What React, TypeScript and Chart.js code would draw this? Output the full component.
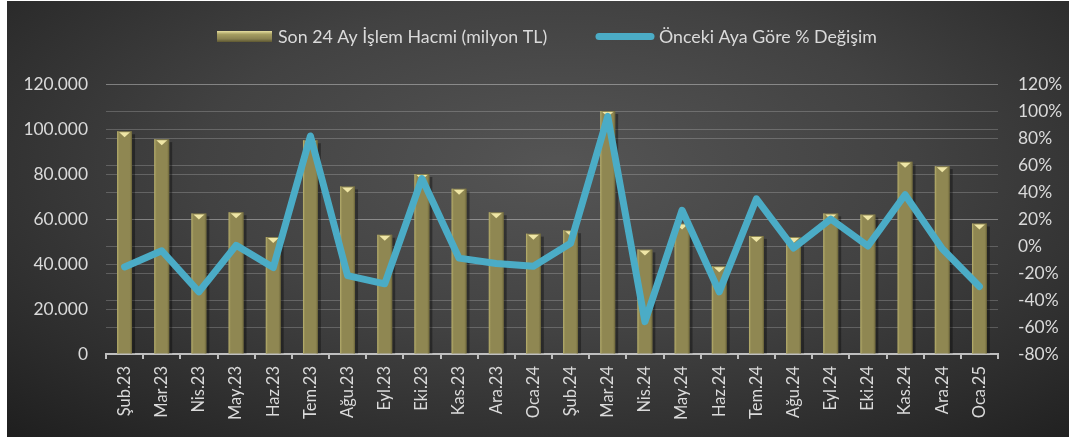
import React, { useEffect, useRef } from "react";
import { Chart, registerables } from "chart.js";

Chart.register(...registerables);

const categories = ["Şub.23","Mar.23","Nis.23","May.23","Haz.23","Tem.23","Ağu.23","Eyl.23","Eki.23","Kas.23","Ara.23","Oca.24","Şub.24","Mar.24","Nis.24","May.24","Haz.24","Tem.24","Ağu.24","Eyl.24","Eki.24","Kas.24","Ara.24","Oca.25"];
const volumes = [99000, 95500, 62500, 63000, 52000, 95000, 74500, 53000, 80000, 73500, 63000, 53500, 55000, 108000, 46500, 58000, 39000, 52500, 52000, 62500, 62000, 85500, 83500, 58000];
const changes = [-15.5, -3.5, -34, 0.5, -16, 81.5, -22, -28, 50, -9, -13, -15, 2, 96, -56, 26.5, -34, 35, -1.5, 20, 0, 38, -2, -30];
const barLabel = "Son 24 Ay İşlem Hacmi (milyon TL)";
const lineLabel = "Önceki Aya Göre % Değişim";

const FONT = "Lato, 'Open Sans', sans-serif";
const TEXT = "#dadada";
const LINE = "#4bacc6";

const fmtThousands = (v: number) => {
  if (v === 0) return "0";
  const s = Math.round(v).toString();
  return s.replace(/\B(?=(\d{3})+(?!\d))/g, ".");
};

const barDeco = {
  id: "barDeco",
  beforeDatasetDraw(chart: any, args: any) {
    if (args.index !== 0) return;
    const ctx = chart.ctx;
    const meta = chart.getDatasetMeta(0);
    ctx.save();
    meta.data.forEach((bar: any) => {
      const w = bar.width;
      ctx.fillStyle = "rgba(0,0,0,0.35)";
      ctx.fillRect(bar.x + w / 2, bar.y + 3, 3, bar.base - bar.y - 3);
    });
    ctx.restore();
  },
  afterDatasetDraw(chart: any, args: any) {
    if (args.index !== 0) return;
    const ctx = chart.ctx;
    const meta = chart.getDatasetMeta(0);
    ctx.save();
    meta.data.forEach((bar: any) => {
      const w = bar.width;
      const l = bar.x - w / 2;
      const g = ctx.createLinearGradient(l, 0, l + w, 0);
      g.addColorStop(0, "rgba(200,192,120,0.9)");
      g.addColorStop(0.18, "rgba(140,132,80,0)");
      g.addColorStop(0.82, "rgba(140,132,80,0)");
      g.addColorStop(1, "rgba(90,84,45,0.8)");
      ctx.fillStyle = g;
      ctx.fillRect(l, bar.y, w, bar.base - bar.y);
      ctx.beginPath();
      ctx.moveTo(l + 2, bar.y + 1);
      ctx.lineTo(l + w - 2, bar.y + 1);
      ctx.lineTo(bar.x, bar.y + 6);
      ctx.closePath();
      ctx.fillStyle = "#efe6a6";
      ctx.fill();
    });
    ctx.restore();
  },
};

const legendPlugin = {
  id: "customLegend",
  afterDraw(chart: any) {
    const ctx = chart.ctx;
    ctx.save();
    const g = ctx.createLinearGradient(0, 30, 0, 41);
    g.addColorStop(0, "#e8e0a0");
    g.addColorStop(0.3, "#a69e62");
    g.addColorStop(0.7, "#8c8452");
    g.addColorStop(1, "#5e5832");
    ctx.fillStyle = g;
    ctx.fillRect(210, 30, 55, 11);
    ctx.font = `17.8px ${FONT}`;
    ctx.fillStyle = TEXT;
    ctx.textBaseline = "middle";
    ctx.textAlign = "left";
    ctx.fillText(barLabel, 271, 36);
    ctx.strokeStyle = LINE;
    ctx.lineWidth = 7;
    ctx.lineCap = "round";
    ctx.beginPath();
    ctx.moveTo(592, 35.5);
    ctx.lineTo(644, 35.5);
    ctx.stroke();
    ctx.fillText(lineLabel, 652, 36);
    ctx.restore();
  },
};

export default function App() {
  const ref = useRef<HTMLCanvasElement | null>(null);
  useEffect(() => {
    document.body.style.margin = "0";
    document.body.style.background = "#ffffff";
    const canvas = ref.current;
    if (!canvas) return;
    const chart = new Chart(canvas, {
      type: "bar",
      data: {
        labels: categories,
        datasets: [
          {
            type: "bar",
            label: barLabel,
            data: volumes,
            yAxisID: "y",
            backgroundColor: "#8f8752",
            borderWidth: 0,
            barPercentage: 0.4,
            categoryPercentage: 1,
            order: 2,
          },
          {
            type: "line",
            label: lineLabel,
            data: changes,
            yAxisID: "y1",
            borderColor: LINE,
            backgroundColor: LINE,
            borderWidth: 7,
            borderJoinStyle: "round",
            borderCapStyle: "round",
            pointRadius: 0,
            tension: 0,
            order: 1,
          },
        ],
      } as any,
      options: {
        animation: false,
        responsive: false,
        maintainAspectRatio: false,
        layout: { padding: { top: 83, left: 0, right: 0, bottom: 0 } },
        plugins: { legend: { display: false }, tooltip: { enabled: false } },
        scales: {
          x: {
            offset: true,
            grid: {
              display: true,
              drawOnChartArea: false,
              drawTicks: true,
              tickLength: 5,
              color: "#bfbfbf",
              lineWidth: 2,
              offset: true,
            },
            border: { display: true, color: "#bfbfbf", width: 2 },
            ticks: {
              color: TEXT,
              font: { family: FONT, size: 16.5 },
              minRotation: 90,
              maxRotation: 90,
              padding: 7,
              autoSkip: false,
            },
            afterFit: (s: any) => {
              s.height = 83;
            },
          },
          y: {
            position: "left",
            min: 0,
            max: 120000,
            grid: { color: "rgba(255,255,255,0.2)", lineWidth: 1, drawTicks: false },
            border: { display: false },
            ticks: {
              stepSize: 20000,
              color: TEXT,
              font: { family: FONT, size: 17.4 },
              padding: 18,
              callback: (v: any) => fmtThousands(Number(v)),
            },
            afterFit: (s: any) => {
              s.width = 99;
            },
          },
          y1: {
            position: "right",
            min: -80,
            max: 120,
            grid: { color: "rgba(255,255,255,0.2)", lineWidth: 1, drawTicks: false },
            border: { display: false },
            ticks: {
              stepSize: 20,
              color: TEXT,
              font: { family: FONT, size: 17.4 },
              padding: 20,
              callback: (v: any) => `${v}%`,
            },
            afterFit: (s: any) => {
              s.width = 71;
            },
          },
        },
      } as any,
      plugins: [barDeco, legendPlugin],
    });
    return () => chart.destroy();
  }, []);

  return (
    <div
      style={{
        position: "absolute",
        left: 7,
        top: 1,
        width: 1062,
        height: 436,
        background:
          "radial-gradient(ellipse 75% 85% at 52% 38%, #555555 0%, #424242 45%, #2c2c2c 80%, #1f1f1f 100%)",
      }}
    >
      <canvas ref={ref} width={1062} height={436} style={{ display: "block", width: 1062, height: 436 }} />
    </div>
  );
}
